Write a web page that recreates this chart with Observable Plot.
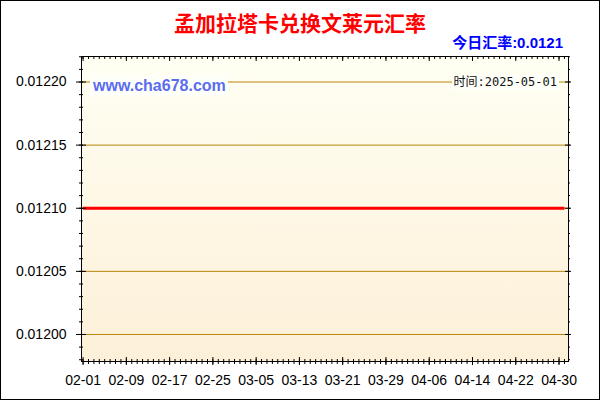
<!DOCTYPE html>
<html><head><meta charset="utf-8">
<script src="https://cdn.jsdelivr.net/npm/d3@7"></script>
<script src="https://cdn.jsdelivr.net/npm/@observablehq/plot@0.6"></script>
<style>
body{margin:0;background:#fff;}
#wrap{position:relative;width:600px;height:400px;overflow:hidden;background:#fff;font-family:"Liberation Sans",Arial,sans-serif;}
#bg{position:absolute;left:81px;top:56px;width:487px;height:305px;background:linear-gradient(#fffff3,#fdf0d8);}
#chart{position:absolute;left:0;top:0;}
#border{position:absolute;left:0;top:0;width:600px;height:400px;border:1px solid #000;box-sizing:border-box;pointer-events:none;}
.t{position:absolute;white-space:nowrap;}
#title{left:0;width:600px;top:8px;text-align:center;color:#ff0000;font-weight:bold;font-size:21px;line-height:28px;font-family:"Noto Sans CJK SC",sans-serif;}
#today{right:37px;top:34px;color:#0000ff;font-weight:bold;font-size:15px;line-height:18px;font-family:"Liberation Sans","Noto Sans CJK SC",sans-serif;}
#site{left:90px;top:75px;height:21px;width:138px;box-sizing:border-box;padding-left:3px;background:#fffffa;color:#5b6cf0;font-weight:bold;font-size:16px;line-height:21px;font-family:"Liberation Sans",Arial,sans-serif;}
#time{right:41px;top:75px;height:15px;padding:0 2px;background:#fffffa;color:#111;font-size:12px;line-height:15px;font-family:"DejaVu Sans Mono","Noto Sans CJK SC",monospace;}
</style></head>
<body>
<div id="wrap">
  <div id="bg"></div>
  <div id="chart"></div>
  <div class="t" id="title"></div>
  <div class="t" id="today"></div>
  <div class="t" id="site"></div>
  <div class="t" id="time"></div>
  <div id="border"></div>
</div>
<script>
// ---- data ----
const titleText = "孟加拉塔卡兑换文莱元汇率";
const todayText = "今日汇率:0.0121";
const siteText = "www.cha678.com";
const timeText = "时间:2025-05-01";
const year = 2025;
const startDay = "2025-02-01";
// daily rates 02-01 .. 05-01 (flat)
const rates = [
  0.0121,0.0121,0.0121,0.0121,0.0121,0.0121,0.0121,0.0121,0.0121,0.0121,
  0.0121,0.0121,0.0121,0.0121,0.0121,0.0121,0.0121,0.0121,0.0121,0.0121,
  0.0121,0.0121,0.0121,0.0121,0.0121,0.0121,0.0121,0.0121,0.0121,0.0121,
  0.0121,0.0121,0.0121,0.0121,0.0121,0.0121,0.0121,0.0121,0.0121,0.0121,
  0.0121,0.0121,0.0121,0.0121,0.0121,0.0121,0.0121,0.0121,0.0121,0.0121,
  0.0121,0.0121,0.0121,0.0121,0.0121,0.0121,0.0121,0.0121,0.0121,0.0121,
  0.0121,0.0121,0.0121,0.0121,0.0121,0.0121,0.0121,0.0121,0.0121,0.0121,
  0.0121,0.0121,0.0121,0.0121,0.0121,0.0121,0.0121,0.0121,0.0121,0.0121,
  0.0121,0.0121,0.0121,0.0121,0.0121,0.0121,0.0121,0.0121,0.0121,0.0121
];
const xTickLabels = ["02-01","02-09","02-17","02-25","03-05","03-13","03-21","03-29","04-06","04-14","04-22","04-30"];
const yTicks = [0.01200,0.01205,0.01210,0.01215,0.01220];
const xDomain = ["2025-01-31T17:00Z","2025-05-01T18:00Z"];
const yDomain = [0.0119786,0.0122202];

document.getElementById("title").textContent = titleText;
document.getElementById("today").textContent = todayText;
document.getElementById("site").textContent = siteText;
document.getElementById("time").textContent = timeText;

const start = new Date(startDay + "T00:00Z");
const series = rates.map((v,i) => ({date: d3.utcDay.offset(start, i), value: v}));
const majorDates = xTickLabels.map(s => new Date(`${year}-${s}T00:00Z`));
const labelOf = new Map(majorDates.map((d,i) => [+d, xTickLabels[i]]));
const minorDates = series.map(d => d.date);
const yMin = yDomain[0], yMax = yDomain[1];
const yMinor = d3.range(1198, 1223).map(v => v/100000).filter(v => v >= yMin && v <= yMax);
const xMin = new Date(xDomain[0]), xMax = new Date(xDomain[1]);

const gold = "#b8860b";
const chart = Plot.plot({
  width: 600, height: 400,
  marginLeft: 81, marginRight: 32, marginTop: 56, marginBottom: 39,
  style: {background: "transparent", fontFamily: '"Liberation Sans", Arial, sans-serif', fontSize: "14px", color: "#000"},
  x: {type: "utc", domain: [xMin, xMax], label: null},
  y: {domain: yDomain, label: null},
  marks: [
    Plot.ruleY(yTicks, {y: d => d, stroke: gold, strokeWidth: 1}),
    Plot.lineY(series, {x: "date", y: "value", stroke: "#ff0000", strokeWidth: 3, strokeLinecap: "butt"}),
    Plot.frame({stroke: "#000"}),
    // bottom ticks
    Plot.ruleX(minorDates, {x: d => d, y1: () => yMin, y2: () => yMin, insetTop: -2, insetBottom: -3, stroke: "#000"}),
    Plot.ruleX(majorDates, {x: d => d, y1: () => yMin, y2: () => yMin, insetTop: -4, insetBottom: -4, stroke: "#000"}),
    // top ticks
    Plot.ruleX(minorDates, {x: d => d, y1: () => yMax, y2: () => yMax, insetTop: 0, insetBottom: -3, stroke: "#000"}),
    Plot.ruleX(majorDates, {x: d => d, y1: () => yMax, y2: () => yMax, insetTop: 0, insetBottom: -5, stroke: "#000"}),
    // left ticks
    Plot.ruleY(yMinor, {y: d => d, x1: () => xMin, x2: () => xMin, insetLeft: -2, insetRight: -2, stroke: "#000"}),
    Plot.ruleY(yTicks, {y: d => d, x1: () => xMin, x2: () => xMin, insetLeft: -5, insetRight: -5, stroke: "#000"}),
    // right ticks
    Plot.ruleY(yMinor, {y: d => d, x1: () => xMax, x2: () => xMax, insetLeft: 0, insetRight: -2, stroke: "#000"}),
    Plot.ruleY(yTicks, {y: d => d, x1: () => xMax, x2: () => xMax, insetLeft: -3, insetRight: -3, stroke: "#000"}),
    Plot.axisY({ticks: yTicks, tickSize: 0, tickPadding: 15, tickFormat: d => d.toFixed(5), fontSize: 14, label: null}),
    Plot.axisX({ticks: majorDates, tickSize: 0, tickPadding: 14, tickFormat: d => labelOf.get(+d), fontSize: 14, label: null})
  ]
});
document.getElementById("chart").appendChild(chart);
</script>
</body></html>
